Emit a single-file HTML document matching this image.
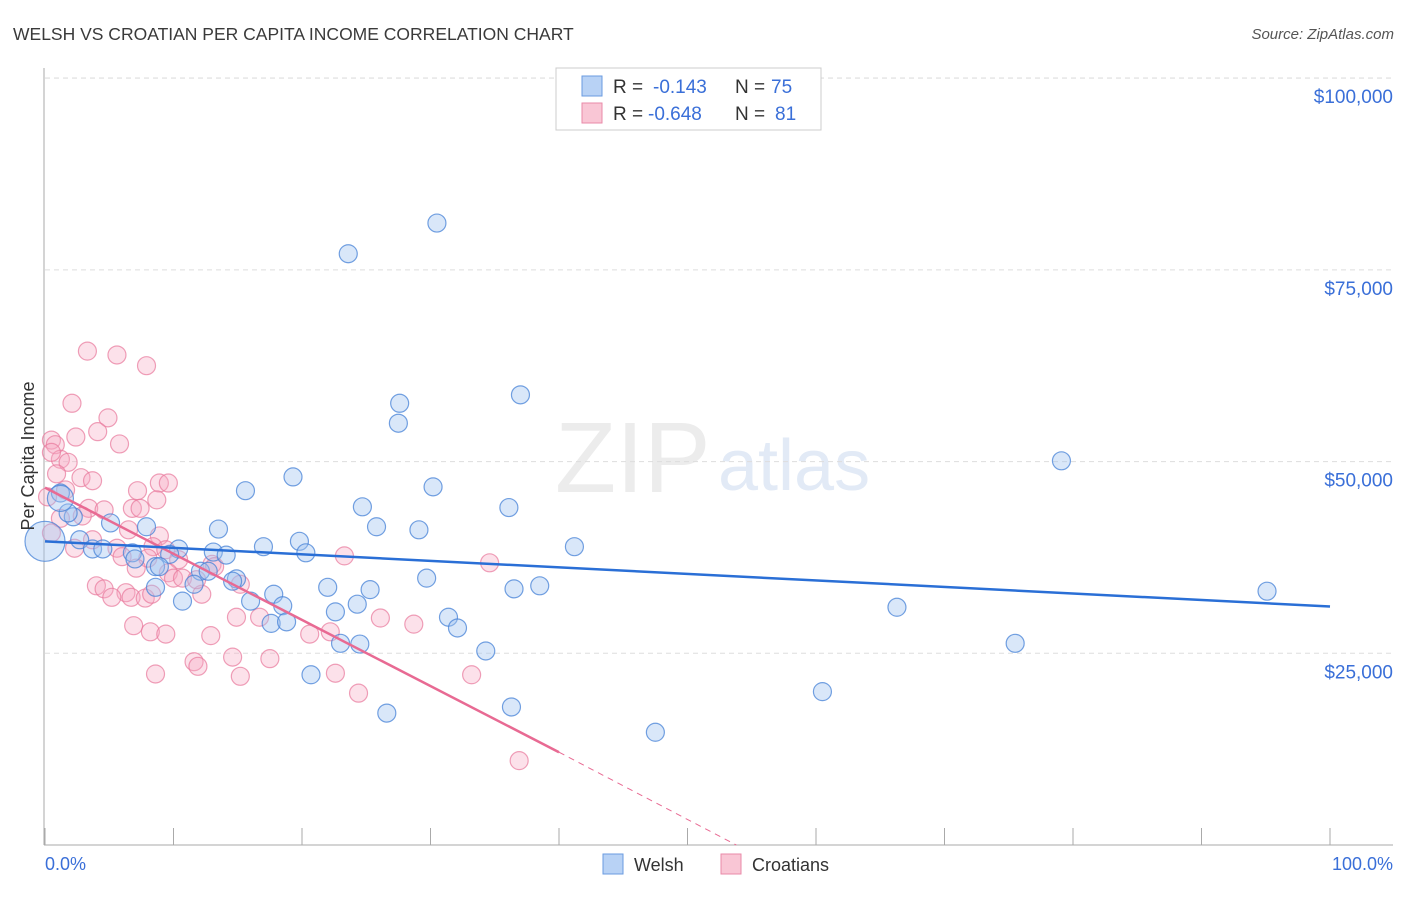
<!DOCTYPE html>
<html><head><meta charset="utf-8"><style>
body{margin:0;background:#fff;font-family:"Liberation Sans",sans-serif;}
svg text{font-family:"Liberation Sans",sans-serif;}
</style></head><body>
<svg id="chart" width="1406" height="892" viewBox="0 0 1406 892" xmlns="http://www.w3.org/2000/svg">
<text x="13" y="40" font-size="17.5" fill="#3a3a3a">WELSH VS CROATIAN PER CAPITA INCOME CORRELATION CHART</text>
<text x="1394" y="39" font-size="15" fill="#555" font-style="italic" text-anchor="end">Source: ZipAtlas.com</text>
<text x="555" y="492" font-size="100" fill="#ececec" font-family="Liberation Serif">ZIP</text>
<text x="718" y="490" font-size="72" fill="#e2eaf6">atlas</text>
<g id="grid"></g>
<g id="axes"></g>
<g id="marks"></g>
<text transform="translate(34,456) rotate(-90)" font-size="18" fill="#333" text-anchor="middle">Per Capita Income</text>
<text x="45" y="870" font-size="18" fill="#3a6fd8">0.0%</text>
<text x="1393" y="870" font-size="18" fill="#3a6fd8" text-anchor="end">100.0%</text>
<g>
<rect x="556" y="68" width="265" height="62" fill="#fff" stroke="#ccc"/>
<rect x="582" y="76" width="20" height="20" fill="#b8d2f5" stroke="#6a9be0"/>
<rect x="582" y="103" width="20" height="20" fill="#f9c6d5" stroke="#e98aa8"/>
<text x="613" y="93" font-size="19" fill="#333">R =</text>
<text x="653" y="93" font-size="19" fill="#3a6fd8">-0.143</text>
<text x="735" y="93" font-size="19" fill="#333">N =</text>
<text x="771" y="93" font-size="19" fill="#3a6fd8">75</text>
<text x="613" y="120" font-size="19" fill="#333">R =</text>
<text x="648" y="120" font-size="19" fill="#3a6fd8">-0.648</text>
<text x="735" y="120" font-size="19" fill="#333">N =</text>
<text x="775" y="120" font-size="19" fill="#3a6fd8">81</text>
</g>
<g>
<rect x="603" y="854" width="20" height="20" fill="#b8d2f5" stroke="#6a9be0"/>
<text x="634" y="871" font-size="18" fill="#333">Welsh</text>
<rect x="721" y="854" width="20" height="20" fill="#f9c6d5" stroke="#e98aa8"/>
<text x="752" y="871" font-size="18" fill="#333">Croatians</text>
</g>
</svg>
<script>
const yTicks=[25000,50000,75000,100000];
const yTickLabels=["$25,000","$50,000","$75,000","$100,000"];
const xTicks=[0,10,20,30,40,50,60,70,80,90,100];
const welshX=[30.5,23.6,37.0,27.6,27.5,79.1,19.3,30.2,15.6,36.1,24.7,25.8,29.1,13.5,7.9,5.1,2.2,1.2,1.8,17.0,19.8,20.3,41.2,13.1,14.1,10.4,9.7,2.7,3.7,4.5,6.8,7.0,8.6,8.9,12.1,12.7,14.9,14.6,29.7,22.0,25.3,36.5,38.5,8.6,11.6,17.8,16.0,18.5,10.7,66.3,31.4,22.6,24.3,32.1,17.6,18.8,95.1,75.5,23.0,24.5,34.3,20.7,60.5,26.6,36.3,47.5,0.0,1.2];
const welshY=[81.1,77.1,58.7,57.6,55.0,50.1,48.0,46.7,46.2,44.0,44.1,41.5,41.1,41.2,41.5,42.0,42.8,45.9,43.3,38.9,39.6,38.1,38.9,38.2,37.8,38.6,37.9,39.8,38.6,38.6,38.1,37.3,36.3,36.3,35.7,35.7,34.7,34.4,34.8,33.6,33.3,33.4,33.8,33.6,34.0,32.7,31.8,31.2,31.8,31.0,29.7,30.4,31.4,28.3,28.9,29.1,33.1,26.3,26.3,26.2,25.3,22.2,20.0,17.2,18.0,14.7,39.6,45.2];
const welshR=[9,9,9,9,9,9,9,9,9,9,9,9,9,9,9,9,9,9,9,9,9,9,9,9,9,9,9,9,9,9,9,9,9,9,9,9,9,9,9,9,9,9,9,9,9,9,9,9,9,9,9,9,9,9,9,9,9,9,9,9,9,9,9,9,9,9,20,13];
const croatX=[3.3,5.6,7.9,2.1,4.9,4.1,2.4,0.5,0.8,5.8,1.2,1.8,0.5,0.9,2.8,3.7,1.6,0.2,7.2,8.9,8.7,9.6,6.8,7.4,3.4,4.6,1.2,2.9,0.5,3.7,6.5,8.9,8.4,9.4,2.3,5.6,6.0,8.0,10.4,13.0,13.2,7.1,4.0,4.6,9.6,10.0,6.3,6.7,12.2,7.8,8.3,5.2,10.7,11.8,15.2,6.9,8.2,9.4,12.9,14.9,16.7,20.6,8.6,11.6,11.9,14.6,15.2,17.5,22.6,24.4,26.1,28.7,33.2,34.6,36.9,23.3,22.2];
const croatY=[64.4,63.9,62.5,57.6,55.7,53.9,53.2,52.8,52.2,52.3,50.3,49.9,51.2,48.4,47.9,47.5,46.3,45.4,46.2,47.2,45.0,47.2,43.9,43.9,43.9,43.7,42.6,42.9,40.7,39.8,41.1,40.3,38.9,38.5,38.7,38.7,37.6,37.4,37.2,36.6,36.3,36.1,33.8,33.4,35.5,34.8,32.9,32.3,32.7,32.2,32.7,32.3,34.8,34.6,34.0,28.6,27.8,27.5,27.3,29.7,29.7,27.5,22.3,23.9,23.3,24.5,22.0,24.3,22.4,19.8,29.6,28.8,22.2,36.8,11.0,37.7,27.8];
const welshTrend=[[0,39.6],[100,31.1]];
const croatTrend=[[0,46.6],[40,12.1]];
const croatTrendExt=[[40,12.1],[53.8,0]];
const NS="http://www.w3.org/2000/svg";
const X0=45,X1=1330,YB=845;
const sx=v=>X0+(X1-X0)*v/100;
const sy=v=>YB-v*1000/130.4;
function mk(tag,attrs,parent){const e=document.createElementNS(NS,tag);for(const k in attrs)e.setAttribute(k,attrs[k]);parent.appendChild(e);return e;}
const grid=document.getElementById('grid'),axes=document.getElementById('axes'),marks=document.getElementById('marks');
yTicks.forEach((t,i)=>{
 const l=mk('line',{x1:X0,x2:1393,y1:sy(t/1000),y2:sy(t/1000),stroke:'#ddd','stroke-dasharray':'5,4'},grid);
 
 
 const tx=mk('text',{x:1393,y:sy(t/1000)+25,'font-size':19,fill:'#3a6fd8','text-anchor':'end'},grid);
 tx.textContent=yTickLabels[i];
 
 
});
const tl=mk('line',{x1:X0,x2:1393,y1:78,y2:78,stroke:'#ddd','stroke-dasharray':'5,4'},grid);


const ya=mk('line',{x1:44,x2:44,y1:68,y2:YB,stroke:'#aaa'},axes);


const xa=mk('line',{x1:44,x2:1393,y1:YB,y2:YB,stroke:'#aaa'},axes);


xTicks.forEach(t=>{
 const l=mk('line',{x1:sx(t),x2:sx(t),y1:828,y2:YB,stroke:'#aaa'},axes);
 
 
});
function dots(xs,ys,rs,fill,stroke,name){
 xs.forEach((x,i)=>{
  const c=mk('circle',{cx:sx(x),cy:sy(ys[i]),r:rs?rs[i]:9,fill:fill,stroke:stroke,'stroke-width':1.2},marks);
  
  
 });
}
dots(croatX,croatY,null,'rgba(246,170,195,0.35)','rgba(232,120,155,0.7)','croatian-point');
dots(welshX,welshY,welshR,'rgba(160,195,240,0.4)','rgba(70,130,215,0.75)','welsh-point');
function line(p,color,w,dash,name){
 const l=mk('line',{x1:sx(p[0][0]),y1:sy(p[0][1]),x2:sx(p[1][0]),y2:sy(p[1][1]),stroke:color,'stroke-width':w},marks);
 if(dash)l.setAttribute('stroke-dasharray',dash);
 
 
}
line(croatTrendExt,'#e86a93',1,'6,5','croatian-trend-extension');
line(croatTrend,'#e86a93',2.5,null,'croatian-trend-line');
line(welshTrend,'#2a6fd6',2.5,null,'welsh-trend-line');
</script>
</body></html>
